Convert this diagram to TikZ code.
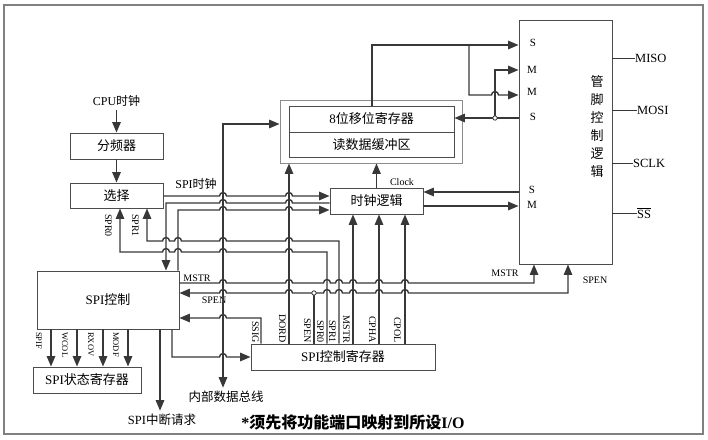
\documentclass[tikz,border=0pt]{standalone}
\usepackage{fontspec}
\setmainfont{Liberation Serif}
\newfontfamily\cjk{Noto Sans CJK SC}
\usetikzlibrary{arrows.meta,calc}
\newcommand{\zh}[1]{{\cjk #1}}
\newcommand{\fs}[1]{\fontsize{#1}{#1}\selectfont}
% bumps where a horizontal wire jumps over a vertical one
\newcommand{\hopr}[2]{-- ({#1-3.5},#2) arc[start angle=180,end angle=360,radius=3.5]}
\newcommand{\hopl}[2]{-- ({#1+3.5},#2) arc[start angle=0,end angle=-180,radius=3.5]}
\tikzset{
  blk/.style={draw=black!70, line width=0.9pt, inner sep=0pt, font=\fs{13}},
  wire/.style={draw=black!78, line width=1.4pt},
  arr/.style={wire, -{Triangle[length=10.5pt,width=8.5pt]}},
  arrb/.style={wire, {Triangle[length=10.5pt,width=8.5pt]}-{Triangle[length=10.5pt,width=8.5pt]}},
  lbl/.style={inner sep=0pt, font=\fs{10}},
  vlbl/.style={lbl, rotate=-90, anchor=north east},
  tlbl/.style={lbl, rotate=-90, anchor=north west},
  hole/.style={draw=black!78, fill=white, line width=0.8pt},
}

\begin{document}
\begin{tikzpicture}[x=1pt,y=-1pt]
			%%%%% FRAME %%%%%
			\useasboundingbox (0,0) rectangle (708,439);
			\draw[black!50, line width=1.2pt] (4,5) rectangle (703,434);
			
			%%%%% BLOCKS %%%%%
			\node[blk, minimum width=93pt, minimum height=26pt] (div) at (116.5,146) {\zh{分频器}};
			\node[blk, minimum width=93pt, minimum height=25pt] (sel) at (116.5,195.5) {\zh{选择}};
			\node[draw=black!45, line width=0.9pt, minimum width=182pt, minimum height=63pt] (sreg) at (371,131.5) {};
			\node[blk, minimum width=165pt, minimum height=26pt] (sft) at (371.5,119) {8\zh{位移位寄存器}};
			\node[blk, minimum width=165pt, minimum height=25pt] (rbuf) at (371.5,144.5) {\zh{读数据缓冲区}};
			\node[blk, minimum width=93pt, minimum height=26pt] (clk) at (376.5,201) {\zh{时钟逻辑}};
			\node[blk, minimum width=93pt, minimum height=244pt] (pin) at (565.5,142) {};
			\node[align=center, inner sep=0pt, font=\fontsize{13}{18}\selectfont\cjk] (pintxt) at (597,127) {管\\脚\\控\\制\\逻\\辑};
			\node[blk, minimum width=142pt, minimum height=58pt] (ctl) at (108,300) {SPI\zh{控制}};
			\node[blk, minimum width=108pt, minimum height=26pt] (stat) at (87,380) {SPI\zh{状态寄存器}};
			\node[blk, minimum width=184pt, minimum height=26pt] (creg) at (343,357) {SPI\zh{控制寄存器}};
			
			%%%%% TEXTS %%%%%
			\node[font=\fs{12}] (cpu) at (116.5,101) {CPU\zh{时钟}};
			\node[font=\fs{12}] (spiclk) at (196,184) {SPI\zh{时钟}};
			\node[lbl] (clock) at (402,182) {Clock};
			\node[lbl] (mstrl) at (197,278) {MSTR};
			\node[lbl] (spenl) at (214,300) {SPEN};
			\node[lbl] (mstrr) at (505,273) {MSTR};
			\node[lbl] (spenr) at (595,280) {SPEN};
			\node[font=\fs{12.5}] (bus) at (226,397) {\zh{内部数据总线}};
			\node[font=\fs{12.5}] (irq) at (162,420) {SPI\zh{中断请求}};
			\node[font=\bfseries\fs{16}] (note) at (353,422) {*\zh{须先将功能端口映射到所设}I/O};
			
			\node[lbl, font=\fs{11}] (ps1) at (533,43) {S};
			\node[lbl, font=\fs{11}] (pm1) at (532,70) {M};
			\node[lbl, font=\fs{11}] (pm2) at (532,92) {M};
			\node[lbl, font=\fs{11}] (ps2) at (533,117) {S};
			\node[lbl, font=\fs{11}] (ps3) at (532,190) {S};
			\node[lbl, font=\fs{11}] (pm3) at (532,205) {M};
			
			\node[lbl, font=\fs{12.5}, anchor=west] (miso) at (635,58) {MISO};
			\node[lbl, font=\fs{12.5}, anchor=west] (mosi) at (637,110) {MOSI};
			\node[lbl, font=\fs{12.5}, anchor=west] (sclk) at (633,163) {SCLK};
			\node[lbl, font=\fs{12.5}, anchor=west] (ssn) at (637,213) {$\overline{\mbox{SS}}$};
			
			\node[tlbl] (spr0s) at (112,214) {SPR0};
			\node[tlbl] (spr1s) at (139,214) {SPR1};
			\node[tlbl, font=\fs{8.5}] (spif) at (42,332) {SPIF};
			\node[tlbl, font=\fs{8.5}] (wcol) at (68,332) {WCOL};
			\node[tlbl, font=\fs{8.5}] (rxov) at (94,332) {RXOV};
			\node[tlbl, font=\fs{8.5}] (modf) at (119,332) {MODF};
			\node[vlbl] (ssig) at (259,343) {SSIG};
			\node[vlbl] (dord) at (286,343) {DORD};
			\node[vlbl] (spen) at (311,343) {SPEN};
			\node[vlbl] (spr0) at (324,343) {SPR0};
			\node[vlbl] (spr1) at (336,343) {SPR1};
			\node[vlbl] (mstr) at (350,343) {MSTR};
			\node[vlbl] (cpha) at (376,343) {CPHA};
			\node[vlbl] (cpol) at (401,343) {CPOL};
			
			%%%%% WIRES %%%%%
			\draw[arr] (cpu) -- (div);
			\draw[arr] (div) -- (sel);
			
			\draw[arr] (sel.east |- 0,196) \hopr{223}{196} \hopr{289}{196} -- (clk.west |- 0,196);
			\draw[arr] (clk.west |- 0,203) \hopl{289}{203} \hopl{223}{203} -- (166,203) -- (ctl.north -| 166,0);
			\draw[arr] (ctl.north -| 178,0) -- (178,210) \hopr{223}{210} \hopr{289}{210} -- (clk.west |- 0,210);
			
			\draw[arr] (creg.north -| 339,0) -- (339,241) \hopl{289}{241} \hopl{223}{241} \hopl{178}{241} \hopl{166}{241} -- (147,241) -- (sel.south -| 147,0);
			\draw[arr] (creg.north -| 327,0) -- (327,252) \hopl{289}{252} \hopl{223}{252} \hopl{178}{252} \hopl{166}{252} -- (120,252) -- (sel.south -| 120,0);
			
			\draw[arr] (ctl.east |- 0,283) \hopr{223}{283} \hopr{289}{283} \hopr{327}{283} \hopr{339}{283} \hopr{353}{283} \hopr{379}{283} \hopr{405}{283} -- (534,283) -- (pin.south -| 534,0);
			\draw[wire] (creg.north -| 314,0) -- (314,293);
			\draw[arr] (314,293) \hopl{289}{293} \hopl{223}{293} -- (ctl.east |- 0,293);
			\draw[arr] (314,293) \hopr{327}{293} \hopr{339}{293} \hopr{353}{293} \hopr{379}{293} \hopr{405}{293} -- (568,293) -- (pin.south -| 568,0);
			\draw[hole] (314,293) circle[radius=2.2];
			
			\draw[arr] (creg.north -| 261,0) -- (261,318) \hopl{223}{318} -- (ctl.east |- 0,318);
			\draw[arr] (ctl.south -| 172,0) -- (172,357) \hopr{223}{357} -- (creg.west |- 0,357);
			
			\draw[arr] (creg.north -| 289,0) -- (sreg.south -| 289,0);
			\draw[arr] (creg.north -| 353,0) -- (clk.south -| 353,0);
			\draw[arr] (creg.north -| 379,0) -- (clk.south -| 379,0);
			\draw[arr] (creg.north -| 405,0) -- (clk.south -| 405,0);
			
			\draw[arrb] (sreg.west |- 0,124) -- (223,124) -- (bus.north -| 223,0);
			\draw[arr] (ctl.south -| 160,0) -- (irq.north -| 160,0);
			
			\foreach \x in {51,77,103,128}
				\draw[arr] (ctl.south -| \x,0) -- (stat.north -| \x,0);
			
			\draw[arr] (clk.north) -- (clk.north |- sreg.south);
			
			\draw[arr] (sft.north -| 372,0) -- (372,45) -- (pin.west |- 0,45);
			\draw[arr] (469,45) -- (469,95) \hopr{495}{95} -- (pin.west |- 0,95);
			\draw[arr] (pin.west |- 0,118) -- (sft.east |- 0,118);
			\draw[arr] (495,118) -- (495,70) -- (pin.west |- 0,70);
			\draw[hole] (495,118) circle[radius=2.2];
			
			\draw[arr] (pin.west |- 0,192) -- (clk.east |- 0,192);
			\draw[arr] (clk.east |- 0,206) -- (pin.west |- 0,206);
			
			\draw[wire, line width=1pt] (pin.east |- miso) -- (miso);
			\draw[wire, line width=1pt] (pin.east |- mosi) -- (mosi);
			\draw[wire, line width=1pt] (pin.east |- sclk) -- (sclk);
			\draw[wire, line width=1pt] (pin.east |- ssn) -- (ssn);
			
			%%%%% END %%%%%
\end{tikzpicture}
\end{document}
